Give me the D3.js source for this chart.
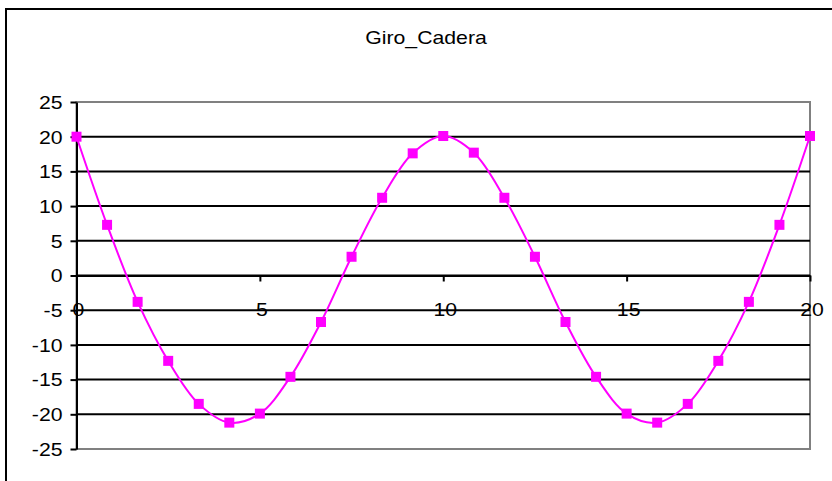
<!DOCTYPE html>
<html>
<head>
<meta charset="utf-8">
<script src="https://cdn.jsdelivr.net/npm/d3@7/dist/d3.min.js"></script>
<style>
  html, body { margin: 0; padding: 0; background: #fff; }
  svg { display: block; }
  text { font-family: "Liberation Sans", Arial, sans-serif; fill: #000; }
</style>
</head>
<body>
<svg id="chart" width="832" height="481"></svg>
<script>
// Hip rotation over one cycle (Giro_Cadera)
const chartTitle = "Giro_Cadera";
const xValues = [0, 0.8333, 1.6667, 2.5, 3.3333, 4.1667, 5, 5.8333, 6.6667, 7.5, 8.3333, 9.1667, 10,
                 10.8333, 11.6667, 12.5, 13.3333, 14.1667, 15, 15.8333, 16.6667, 17.5, 18.3333, 19.1667, 20];
const yValues = [20, 7.3, -3.8, -12.3, -18.5, -21.2, -19.9, -14.6, -6.7, 2.7, 11.2, 17.6, 20.1,
                 17.7, 11.2, 2.7, -6.7, -14.6, -19.9, -21.2, -18.5, -12.3, -3.8, 7.3, 20.1];
const xTicks = [0, 5, 10, 15, 20];
const yTicks = [25, 20, 15, 10, 5, 0, -5, -10, -15, -20, -25];

const svg = d3.select("#chart");
const plot = { left: 76.5, right: 810, top: 102, bottom: 449 };
const stretch = 1.18;   // wide glyphs of the original typeface
const plain = d => String(d);   // hyphen-minus for negative labels

const x = d3.scaleLinear().domain([0, 20]).range([plot.left, plot.right]);
const y = d3.scaleLinear().domain([-25, 25]).range([plot.bottom, plot.top]);

// outer chart frame
svg.append("rect")
  .attr("x", 6).attr("y", 9).attr("width", 840).attr("height", 490)
  .attr("fill", "#fff").attr("stroke", "#000").attr("stroke-width", 2);

// title
svg.append("text")
  .attr("transform", `translate(426,44) scale(${stretch},1)`)
  .attr("text-anchor", "middle")
  .style("font-size", "18px")
  .text(chartTitle);

// plot area border (grey)
svg.append("rect")
  .attr("x", plot.left).attr("y", plot.top)
  .attr("width", plot.right - plot.left).attr("height", plot.bottom - plot.top)
  .attr("fill", "#fff").attr("stroke", "#808080").attr("stroke-width", 2);

// horizontal gridlines
svg.append("g").selectAll("line")
  .data(yTicks.filter(d => d !== 25 && d !== -25))
  .join("line")
  .attr("x1", plot.left).attr("x2", plot.right)
  .attr("y1", d => y(d)).attr("y2", d => y(d))
  .attr("stroke", "#000").attr("stroke-width", 2);

// y axis
const yAxis = svg.append("g")
  .attr("transform", `translate(${plot.left},0)`)
  .call(d3.axisLeft(y).tickValues(yTicks).tickFormat(plain).tickSize(6).tickSizeOuter(0).tickPadding(8));
yAxis.select(".domain").attr("stroke", "#000").attr("stroke-width", 2);
yAxis.selectAll(".tick line").attr("stroke", "#000").attr("stroke-width", 2);
yAxis.selectAll(".tick text")
  .style("font-size", "18px")
  .attr("font-family", null)
  .attr("dy", "0.35em")
  .attr("x", null)
  .attr("transform", `translate(-14,0) scale(${stretch},1)`);

// x axis crossing at zero
const xAxis = svg.append("g")
  .attr("transform", `translate(0,${y(0)})`)
  .call(d3.axisBottom(x).tickValues(xTicks).tickFormat(plain).tickSize(6).tickSizeOuter(0).tickPadding(0));
xAxis.select(".domain").attr("stroke", "#000").attr("stroke-width", 2);
xAxis.selectAll(".tick line").attr("stroke", "#000").attr("stroke-width", 2);
xAxis.selectAll(".tick text")
  .style("font-size", "18px")
  .attr("font-family", null)
  .attr("dy", null)
  .attr("y", null)
  .attr("transform", `translate(1.5,40) scale(${stretch},1)`);

// smoothed series line
const pts = xValues.map((v, i) => [v, yValues[i]]);
svg.append("path")
  .datum(pts)
  .attr("fill", "none")
  .attr("stroke", "#ff00ff")
  .attr("stroke-width", 2)
  .attr("d", d3.line().x(d => x(d[0])).y(d => y(d[1])).curve(d3.curveCatmullRom.alpha(0.5)));

// square markers
const m = 10;
svg.append("g").selectAll("rect")
  .data(pts)
  .join("rect")
  .attr("x", d => x(d[0]) - m / 2)
  .attr("y", d => y(d[1]) - m / 2)
  .attr("width", m).attr("height", m)
  .attr("fill", "#ff00ff");
</script>
</body>
</html>
